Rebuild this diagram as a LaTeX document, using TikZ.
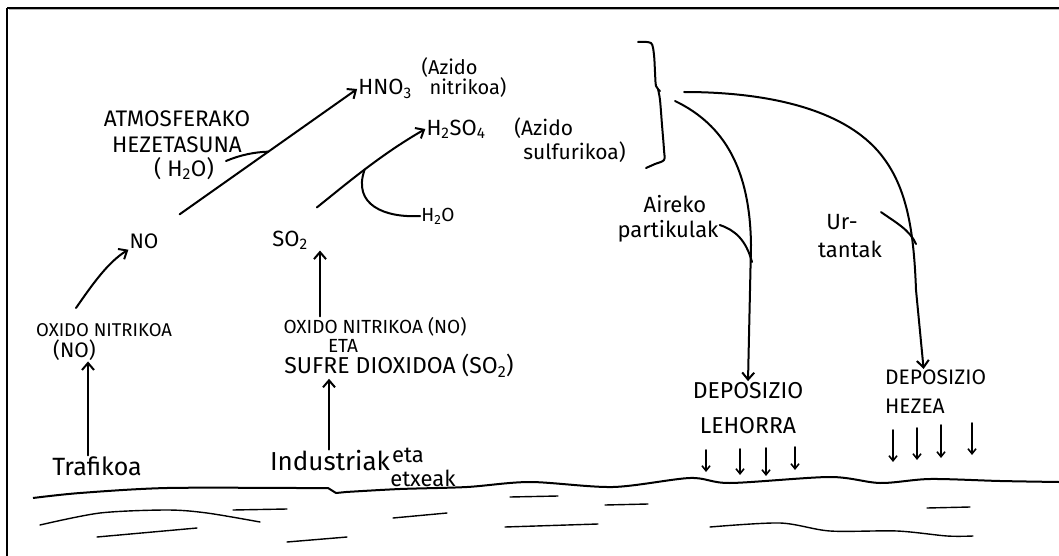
\documentclass[tikz,border=0pt]{standalone}
\usepackage{fontspec}
\setmainfont{Fira Sans}
\usetikzlibrary{arrows.meta}
\tikzset{
  ink/.style={line width=2pt, line cap=round, line join=round},
  arr/.style={ink, -{Straight Barb[length=7pt,width=12pt,line width=2pt]}},
  sarr/.style={line width=1.6pt, line cap=round, -{Straight Barb[length=5pt,width=8pt,line width=1.6pt]}},
  wave/.style={line width=1.4pt, line cap=round},
  lbl/.style={inner sep=1pt, align=center},
}
\newcommand{\fs}[1]{\fontsize{#1}{#1}\selectfont}
\begin{document}
\begin{tikzpicture}[x=1pt,y=-1pt]
\useasboundingbox (0,0) rectangle (1059,556);
\fill[white] (0,0) rectangle (1059,556);
% frame
\draw[gray!60, line width=1pt] (9,10) -- (1059,10);
\draw[line width=2pt] (7,8) -- (1059,8);
\draw[line width=2pt] (7,8) -- (7,556);

% nodes
\node[lbl, font=\fs{22.5}, align=center, inner sep=0pt] (atm) at (177,145)
  {ATMOSFERAKO\\[4pt]HEZETASUNA\\[1pt]\hspace*{14pt}( H\textsubscript{2}O)};
\node[lbl, font=\fs{22}] (hno3) at (385,89) {HNO\textsubscript{3}};
\node[lbl, font=\fs{20}, align=left] (azn) at (464,78) {(Azido\\\hspace*{8pt}nitrikoa)};
\node[lbl, font=\fs{22}] (h2so4) at (456,129) {H\textsubscript{2}SO\textsubscript{4}};
\node[lbl, font=\fs{21}, align=left] (azs) at (570,140) {(Azido\\[3pt]\hspace*{9pt}sulfurikoa)};
\node[lbl, font=\fs{21}] (no) at (144,241) {NO};
\node[lbl, font=\fs{22}] (so2) at (290,240) {SO\textsubscript{2}};
\node[lbl, font=\fs{19}] (h2o) at (438,216) {H\textsubscript{2}O};
\node[lbl, font=\fs{18.5}, align=left, anchor=west] (ox1) at (35,342) {OXIDO NITRIKOA\\[2pt]\hspace*{17pt}{\fs{21}(NO)}};
\node[lbl, font=\fs{19}] (ox2a) at (375,327) {OXIDO NITRIKOA (NO)};
\node[lbl, font=\fs{19}] (ox2b) at (343,346) {ETA};
\node[lbl, font=\fs{23}] (ox2c) at (399,366) {SUFRE DIOXIDOA (SO\textsubscript{2})};
\node[lbl, font=\fs{25}] (traf) at (97,466) {Trafikoa};
\node[lbl, font=\fs{26}] (ind) at (330,461) {Industriak};
\node[lbl, font=\fs{22}] (eta) at (408,455) {eta};
\node[lbl, font=\fs{22}] (etx) at (423,478) {etxeak};
\node[lbl, font=\fs{22}] (air) at (668,219) {\hspace*{14pt}Aireko\\[3pt]partikulak};
\node[lbl, font=\fs{22}] (ur) at (850,236) {\hspace*{-16pt}Ur-\\[6pt]tantak};
\node[lbl, font=\fs{23}] (depl) at (748,408) {DEPOSIZIO\\[12pt]LEHORRA};
\node[lbl, font=\fs{21}, align=left, anchor=west] (deph) at (884,392) {DEPOSIZIO\\[8pt]HEZEA};

\coordinate (c88) at (88,0);
\coordinate (c320) at (320,0);
\coordinate (c329) at (329,0);

% brace
\draw[ink] plot[smooth] coordinates {(638,42) (651,43) (654,55) (655,72) (656,86) (660,91)};
\draw[ink] plot[smooth] coordinates {(658,89) (660,100) (662,125) (664,150) (664,160) (655,164) (646,168)};
\coordinate (b1) at (675,101);
\coordinate (b2) at (684,92);

% main arrows
\coordinate (ns) at (76,308);
\draw[arr] (ns) .. controls (92,285) and (108,262) .. (no.south west);
\draw[arr] ([shift={(20,-18)}]no.north east) -- coordinate[pos=0.5] (m1) (hno3.west);
\coordinate (hz) at (226,161);
\draw[ink] (hz) .. controls (240,155) and (255,152) .. (m1);
\draw[arr] ([shift={(8,-22)}]so2.north east) .. controls (345,185) and (380,155) .. coordinate[pos=0.5] (m2) (h2so4.west);
\draw[ink] (h2o.west) .. controls (385,218) and (352,205) .. (m2);
\draw[arr] (ox2a.north -| c320) -- (so2.south -| c320);
\draw[arr] (traf.north -| c88) -- (ox1.south -| c88);
\draw[arr] (ind.north -| c329) -- (ox2c.south -| c329);

% deposition arrows
\draw[arr] (b1) .. controls (725,125) and (750,170) .. (751,245) -- (depl.north);
\draw[arr] (b2) .. controls (770,92) and (850,110) .. (885,160) .. controls (908,192) and (914,235) .. (916,290) -- ([xshift=-12pt]deph.north);
\draw[ink] (air.east) ++(0,6) .. controls (735,230) and (746,240) .. (752,262);
\draw[ink] (ur.north east) ++(-2,-1) .. controls (895,222) and (910,230) .. (916,244);

% small arrows
\foreach \x/\a/\b in {706/450/472, 740/449/475, 766/448/476, 795/447/470}
  \draw[sarr] (\x,\a) -- (\x,\b);
\foreach \x/\a/\b in {893/430/462, 917/428/460, 941/425/458, 972/423/455}
  \draw[sarr] (\x,\a) -- (\x,\b);

% ground
\draw[line width=2pt, line join=round] plot[smooth, tension=0.5] coordinates {(33,498) (80,493) (167,488) (300,488) (328,488)}
  -- (336,493) -- (346,492) -- plot[smooth, tension=0.5] coordinates {(346,492) (400,489) (467,487) (530,482) (613,487) (690,478) (730,483) (830,477) (880,483) (930,479) (1000,481) (1059,482)};
\draw[wave] plot[smooth] coordinates {(40,525) (100,513) (167,510) (207,513) (260,522)};
\draw[wave] (97,537) -- (197,528);
\draw[wave] (233,510) -- (287,509);
\draw[wave] (287,542) -- (347,537);
\draw[wave] (393,518) -- (447,513);
\draw[wave] (510,497) -- (558,496);
\draw[wave] (505,527) -- (598,524);
\draw[wave] (605,505) -- (648,504);
\draw[wave] plot[smooth] coordinates {(710,527) (780,523) (830,531) (897,531) (947,536) (973,536)};
\draw[wave] (927,508) -- (970,507);
\end{tikzpicture}
\end{document}
